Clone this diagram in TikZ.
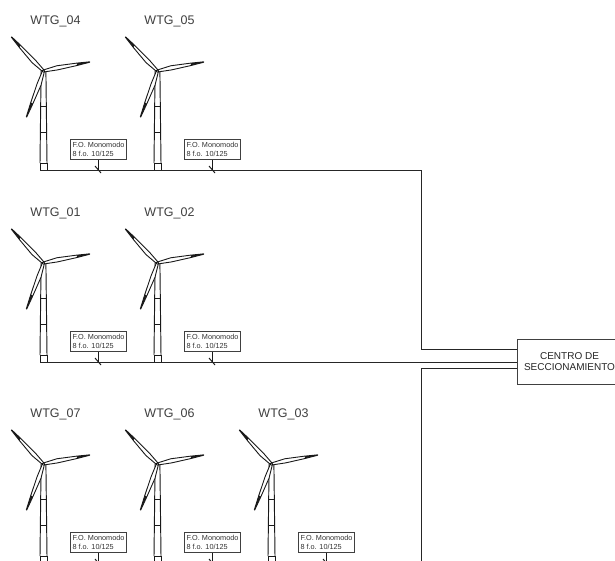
\documentclass[tikz,border=0pt]{standalone}
\usepackage{fontspec}
\setmainfont{Liberation Sans}
\tikzset{
  line/.style={draw=black!85,line width=0.9pt},
  thin line/.style={draw=black!90,line width=0.95pt},
  blade/.style={draw=black!90,fill=white,line width=0.9pt,line join=round},
  tag/.style={draw=black!75,line width=1pt,fill=white,anchor=north west,minimum width=56pt,minimum height=20pt,inner sep=1.5pt,font=\fontsize{7.3}{8.6}\selectfont,text=black!80,align=left},
  wtg/.style={font=\fontsize{12.5}{14}\selectfont,text=black!75,inner sep=0pt},
  base/.style={draw=black!90,line width=0.95pt,minimum width=7pt,minimum height=7pt,inner sep=0pt,outer sep=0pt},
  centre/.style={draw=black!75,line width=1pt,fill=white,minimum width=104pt,minimum height=45pt,inner sep=0pt,font=\fontsize{10}{11.5}\selectfont,text=black!85,align=center},
  onebladeshape/.pic={\path[blade] (0,-1) -- (14,-2.6) -- (34,-1.4) -- (#1,-0.2) -- (#1,0.2) -- (34,1) -- (14,1.6) -- (0,1) -- cycle;
    \fill[black!90] (34,-1.2) -- (#1,-0.2) -- (#1,0.2) -- (34,0.9) -- cycle;},
}
\newcommand{\turbine}[4]{%
  % #1 id, #2 hub x, #3 hub y, #4 label
  \node[wtg] (lab#1) at (#2+12,#3-50) {WTG\_#4};
  \node[base] (t#1) at (#2,#3+95.5) {};
  \draw[thin line] (#2-2.4,#3) -- (t#1.north west);
  \draw[thin line] (#2+2.4,#3) -- (t#1.north east);
  \draw[thin line] (#2-2.8,#3+35) -- (#2+2.8,#3+35);
  \draw[thin line] (#2-3.1,#3+61) -- (#2+3.1,#3+61);
  \pic[rotate=133.3] at (#2,#3) {onebladeshape=46.7};
  \pic[rotate=11] at (#2,#3) {onebladeshape=47};
  \pic[rotate=-110.3] at (#2,#3) {onebladeshape=49};
  \fill[black] (#2,#3) circle (1.6);
  \fill[white] (#2,#3) circle (0.5);
  \node[tag] (fo#1) at (#2+26.5,#3+68) {F.O. Monomodo\\8 f.o. 10/125};
  \coordinate (s#1) at (#2+54.5,#3+99);
  \coordinate (ta#1) at (#2+51.5,#3+95);
  \coordinate (tb#1) at (#2+57.5,#3+102);
  \draw[thin line] (fo#1.south -| s#1) -- (s#1);
  \draw[thin line] (ta#1) -- (tb#1);
}
\begin{document}
\begin{tikzpicture}[x=1pt,y=-1pt]
\useasboundingbox (0,0) rectangle (615,560);
\clip (0,0) rectangle (615,560);
\fill[white] (0,0) rectangle (615,560);
\node[centre] (centro) at (569.5,361.5) {CENTRO DE\\SECCIONAMIENTO};
\coordinate (in1) at (centro.west |- 0,349);
\coordinate (in3) at (centro.west |- 0,368);
\coordinate (bend1) at (421,349);
\coordinate (top1) at (421,170);
\coordinate (bend3) at (421,368);
\coordinate (low3) at (421,563);
\turbine{04}{43.5}{71}{04}
\turbine{05}{157.5}{71}{05}
\turbine{01}{43.5}{263}{01}
\turbine{02}{157.5}{263}{02}
\turbine{07}{43.5}{464}{07}
\turbine{06}{157.5}{464}{06}
\turbine{03}{271.5}{464}{03}
\coordinate (in2) at (centro.west |- t01.south west);
\draw[line] (t04.south west) -- (top1) -- (bend1) -- (in1);
\draw[line] (t01.south west) -- (in2);
\draw[line] (t07.south west) -- (low3) -- (bend3) -- (in3);
\end{tikzpicture}
\end{document}
